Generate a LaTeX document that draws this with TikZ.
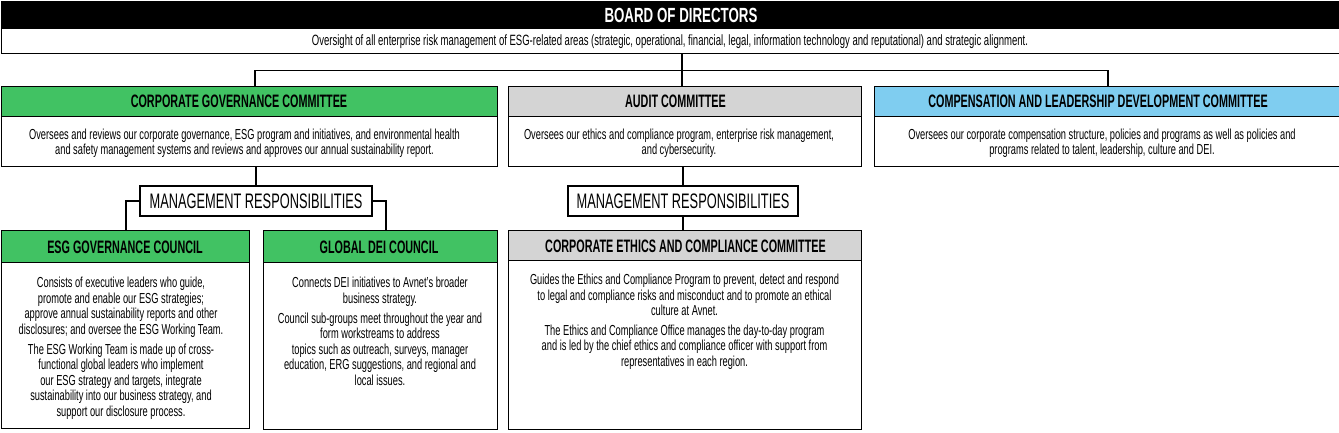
\documentclass[tikz,border=0pt]{standalone}
\usepackage{fontspec}
\setmainfont{Liberation Sans}
\newfontfamily\cf[FakeStretch=0.64]{Liberation Sans}
\newfontfamily\hf[FakeStretch=0.6]{Liberation Sans Bold}
\newfontfamily\tf[FakeStretch=0.65]{Liberation Sans Bold}
\newfontfamily\mf[FakeStretch=0.61]{Liberation Sans}
\definecolor{cggreen}{RGB}{65,194,99}
\definecolor{audgray}{RGB}{212,212,212}
\definecolor{compblue}{RGB}{127,205,240}
\begin{document}
\begin{tikzpicture}[x=1pt,y=-1pt,
  box/.style={draw=black, line width=1.1pt, inner sep=0pt, anchor=north west},
  hdrtxt/.style={font=\hf\fontsize{18}{20}\selectfont, inner sep=0pt},
  bodytxt/.style={font=\cf\fontsize{14.5}{15.5}\selectfont, align=center, inner sep=0pt},
  mrbox/.style={draw=black, line width=1.1pt, fill=white, minimum height=30pt, font=\mf\fontsize{21}{24}\selectfont, inner sep=0pt},
  link/.style={draw=black, line width=1.1pt}]
\useasboundingbox (0,0) rectangle (1339,432);

% Board
\node[box, draw=none, fill=black, minimum width=1339pt, minimum height=28pt] (board) at (0,0) {};
\node[font=\tf\fontsize{20.5}{22}\selectfont, text=white, inner sep=0pt] (boardT) at (681,15) {BOARD OF DIRECTORS};
\node[box, minimum width=1345pt, minimum height=25pt] (over) at (0.55,28) {};
\node[font=\cf\fontsize{14.9}{16}\selectfont, inner sep=0pt] (overT) at (670,41.5) {Oversight of all enterprise risk management of ESG-related areas (strategic, operational, financial, legal, information technology and reputational) and strategic alignment.};

% Committees
\node[box, fill=cggreen, minimum width=496pt, minimum height=30pt] (cgcH) at (0.55,86) {};
\node[box, minimum width=496pt, minimum height=50pt] (cgcB) at (0.55,116) {};
\node[box, fill=audgray, minimum width=353pt, minimum height=30pt] (audH) at (508,86) {};
\node[box, minimum width=353pt, minimum height=50pt] (audB) at (508,116) {};
\node[box, fill=compblue, minimum width=470pt, minimum height=30pt] (compH) at (874,86) {};
\node[box, minimum width=470pt, minimum height=50pt] (compB) at (874,116) {};

\node[hdrtxt] (cgcT) at (239,101) {CORPORATE GOVERNANCE COMMITTEE};
\node[hdrtxt] (audT) at (675.5,101) {AUDIT COMMITTEE};
\node[hdrtxt] (compT) at (1098,101) {COMPENSATION AND LEADERSHIP DEVELOPMENT COMMITTEE};

\node[bodytxt] (cgcX) at (244.5,143) {Oversees and reviews our corporate governance, ESG program and initiatives, and environmental health\\and safety management systems and reviews and approves our annual sustainability report.};
\node[bodytxt] (audX) at (679,143) {Oversees our ethics and compliance program, enterprise risk management,\\and cybersecurity.};
\node[bodytxt] (compX) at (1102,143) {Oversees our corporate compensation structure, policies and programs as well as policies and\\programs related to talent, leadership, culture and DEI.};

% Management responsibilities
\node[mrbox, minimum width=232pt] (mr1) at (256,201) {MANAGEMENT RESPONSIBILITIES};
\node[mrbox, minimum width=230pt] (mr2) at (683,201) {MANAGEMENT RESPONSIBILITIES};

% Councils
\node[box, fill=cggreen, minimum width=248.5pt, minimum height=32pt] (esgH) at (0.55,230) {};
\node[box, minimum width=248.5pt, minimum height=166pt] (esgB) at (0.55,262) {};
\node[box, fill=cggreen, minimum width=234pt, minimum height=32pt] (deiH) at (263,230) {};
\node[box, minimum width=234pt, minimum height=167pt] (deiB) at (263,262) {};
\node[box, fill=audgray, minimum width=353pt, minimum height=30pt] (cecH) at (508,230) {};
\node[box, minimum width=353pt, minimum height=169pt] (cecB) at (508,260) {};

\node[hdrtxt] (esgT) at (125,247) {ESG GOVERNANCE COUNCIL};
\node[hdrtxt] (deiT) at (379,247) {GLOBAL DEI COUNCIL};
\node[hdrtxt] (cecT) at (685.5,246) {CORPORATE ETHICS AND COMPLIANCE COMMITTEE};

\node[bodytxt, anchor=north] (esgX) at (121,277) {Consists of executive leaders who guide,\\promote and enable our ESG strategies;\\approve annual sustainability reports and other\\disclosures; and oversee the ESG Working Team.\\[4.5pt]The ESG Working Team is made up of cross-\\functional global leaders who implement\\our ESG strategy and targets, integrate\\sustainability into our business strategy, and\\support our disclosure process.};
\node[bodytxt, anchor=north] (deiX) at (380,277) {Connects DEI initiatives to Avnet’s broader\\business strategy.\\[4.5pt]Council sub-groups meet throughout the year and\\form workstreams to address\\topics such as outreach, surveys, manager\\education, ERG suggestions, and regional and\\local issues.};
\node[bodytxt, anchor=north] (cecX) at (684.5,274) {Guides the Ethics and Compliance Program to prevent, detect and respond\\to legal and compliance risks and misconduct and to promote an ethical\\culture at Avnet.\\[4pt]The Ethics and Compliance Office manages the day-to-day program\\and is led by the chief ethics and compliance officer with support from\\representatives in each region.};

% Connectors
\draw[link] (over.south -| 682,0) -- (audH.north -| 682,0);
\draw[link] (cgcH.north -| 255,0) -- ++(0,-15.5) -| (compH.north -| 1108,0);
\draw[link] (cgcB.south -| mr1.north) -- (mr1.north);
\draw[link] (mr1.west) -| (esgH.north -| 126,0);
\draw[link] (mr1.east) -| (deiH.north -| 386,0);
\draw[link] (audB.south -| mr2.north) -- (mr2.north);
\draw[link] (mr2.south) -- (cecH.north -| mr2.south);
\end{tikzpicture}
\end{document}
